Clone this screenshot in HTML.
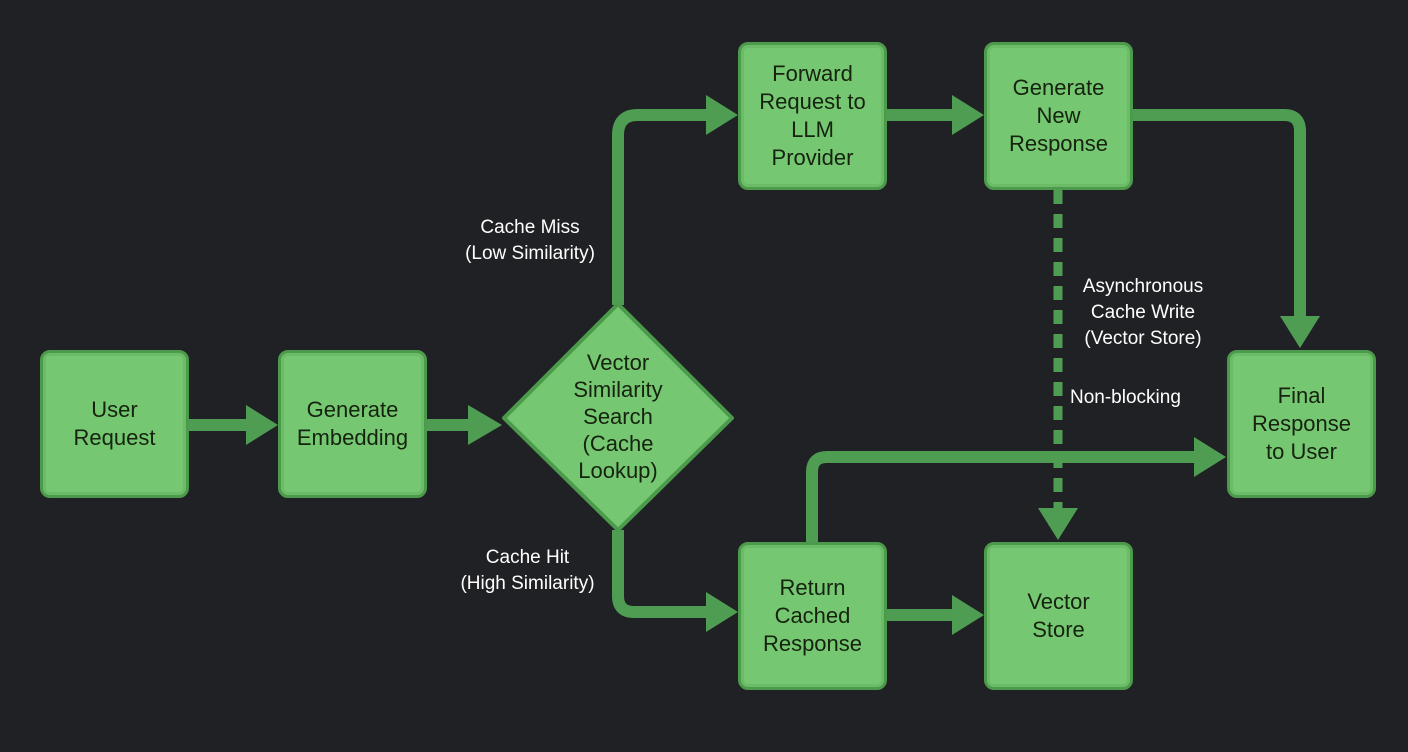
<!DOCTYPE html>
<html><head><style>
body{margin:0;width:1408px;height:752px;background:#202124;overflow:hidden;font-family:"Liberation Sans",sans-serif}
.b{position:absolute;width:149px;height:148px;background:#76c772;border:3px solid #4c9a4c;border-radius:10px;box-sizing:border-box;display:flex;align-items:center;justify-content:center;text-align:center;font-size:22px;line-height:28px;color:#15230f;box-shadow:inset 0 0 0 3px #6bbb67}
.l{position:absolute;color:#fff;font-size:19px;line-height:26px;text-align:center}
svg{position:absolute;left:0;top:0}
</style></head><body>
<svg width="1408" height="752">
<g fill="none" stroke="#4f9d52" stroke-width="12" stroke-linejoin="round">
<path d="M188 425H250"/>
<path d="M426 425H472"/>
<path d="M618 305V135Q618 115 638 115H710"/>
<path d="M618 530V596Q618 612 634 612H710"/>
<path d="M886 115H956"/>
<path d="M1132 115H1284Q1300 115 1300 131V320"/>
<path d="M812 542V472Q812 457 827 457H1198"/>
<path d="M886 615H956"/>
<path d="M1058 190V512" stroke-dasharray="14 10" stroke-width="9"/>
</g>
<g fill="#4f9d52">
<path d="M246 405L278 425L246 445Z"/>
<path d="M468 405L502 425L468 445Z"/>
<path d="M706 95L738 115L706 135Z"/>
<path d="M706 592L738 612L706 632Z"/>
<path d="M952 95L984 115L952 135Z"/>
<path d="M952 595L984 615L952 635Z"/>
<path d="M1194 437L1226 457L1194 477Z"/>
<path d="M1280 316L1300 348L1320 316Z"/>
<path d="M1038 508L1058 540L1078 508Z"/>
</g>
<polygon points="618,304 732,418 618,530 504,418" fill="#76c772" stroke="#4c9a4c" stroke-width="4" stroke-linejoin="round"/>
<text x="618" y="370" font-family="Liberation Sans" font-size="22" fill="#15230f" text-anchor="middle">
<tspan x="618">Vector</tspan><tspan x="618" dy="27">Similarity</tspan><tspan x="618" dy="27">Search</tspan><tspan x="618" dy="27">(Cache</tspan><tspan x="618" dy="27">Lookup)</tspan></text>
</svg>
<div class="b" style="left:40px;top:350px">User<br>Request</div>
<div class="b" style="left:278px;top:350px">Generate<br>Embedding</div>
<div class="b" style="left:738px;top:42px">Forward<br>Request to<br>LLM<br>Provider</div>
<div class="b" style="left:984px;top:42px">Generate<br>New<br>Response</div>
<div class="b" style="left:1227px;top:350px">Final<br>Response<br>to User</div>
<div class="b" style="left:738px;top:542px">Return<br>Cached<br>Response</div>
<div class="b" style="left:984px;top:542px">Vector<br>Store</div>
<div class="l" style="left:445px;top:215px;width:170px">Cache Miss<br>(Low Similarity)</div>
<div class="l" style="left:440px;top:545px;width:175px">Cache Hit<br>(High Similarity)</div>
<div class="l" style="left:1066px;top:274px;width:154px">Asynchronous<br>Cache Write<br>(Vector Store)</div>
<div class="l" style="left:1070px;top:385px;width:140px;text-align:left">Non-blocking</div>
</body></html>
